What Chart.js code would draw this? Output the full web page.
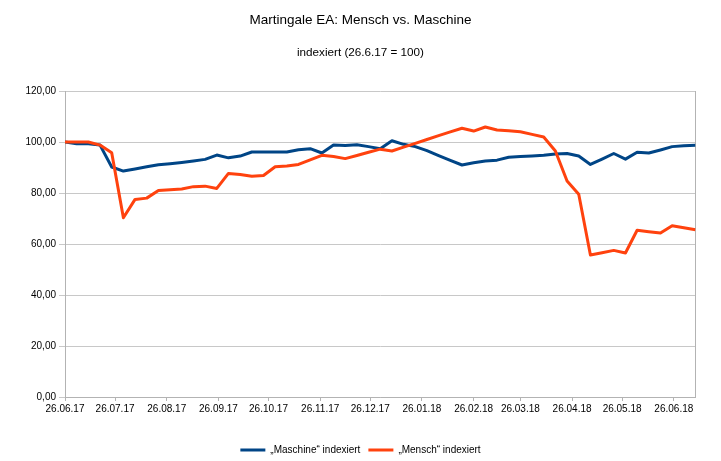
<!DOCTYPE html>
<html><head><meta charset="utf-8">
<script src="https://cdn.jsdelivr.net/npm/chart.js@4"></script>
<style>html,body{margin:0;padding:0;background:#fff}#wrap{width:721px;height:461px}</style>
</head><body><div id="wrap"><canvas id="c" width="721" height="461"></canvas></div>
<script>
const dates = ['26.06.17','03.07.17','10.07.17','17.07.17','24.07.17','31.07.17','07.08.17','14.08.17','21.08.17','28.08.17',
  '04.09.17','11.09.17','18.09.17','25.09.17','02.10.17','09.10.17','16.10.17','23.10.17','30.10.17','06.11.17',
  '13.11.17','20.11.17','27.11.17','04.12.17','11.12.17','18.12.17','25.12.17','01.01.18','08.01.18','15.01.18',
  '22.01.18','29.01.18','05.02.18','12.02.18','19.02.18','26.02.18','05.03.18','12.03.18','19.03.18','26.03.18',
  '02.04.18','09.04.18','16.04.18','23.04.18','30.04.18','07.05.18','14.05.18','21.05.18','28.05.18','04.06.18',
  '11.06.18','18.06.18','25.06.18','02.07.18','09.07.18'];
const maschine = [100, 99.3, 99.3, 98.8, 90.2, 88.6, 89.4, 90.3, 91.1, 91.5,
  92.0, 92.6, 93.2, 94.9, 93.8, 94.5, 96.1, 96.1, 96.1, 96.1,
  97.0, 97.4, 95.7, 98.8, 98.6, 98.9, 98.2, 97.4, 100.5, 99.1,
  98.2, 96.6, 94.7, 92.8, 91.0, 91.9, 92.6, 92.9, 94.0, 94.3,
  94.5, 94.8, 95.3, 95.5, 94.5, 91.2, 93.3, 95.5, 93.3, 96.0,
  95.7, 96.9, 98.2, 98.5, 98.7];
const mensch = [100, 100, 100, 98.8, 95.8, 70.3, 77.5, 78.0, 81.0, 81.3,
  81.6, 82.5, 82.7, 81.8, 87.7, 87.3, 86.6, 86.9, 90.3, 90.6,
  91.2, 93.0, 94.8, 94.3, 93.5, 94.7, 96.0, 97.2, 96.5, 98.0,
  99.5, 101.0, 102.5, 104.0, 105.4, 104.3, 105.9, 104.7, 104.4, 104.0,
  103.0, 102.0, 96.5, 84.7, 79.5, 55.7, 56.6, 57.5, 56.5, 65.4,
  64.8, 64.3, 67.2, 66.4, 65.6];
const tickDates = ['26.06.17','26.07.17','26.08.17','26.09.17','26.10.17','26.11.17','26.12.17',
  '26.01.18','26.02.18','26.03.18','26.04.18','26.05.18','26.06.18'];
const seriesNames = ['\u201EMaschine\u201C indexiert', '\u201EMensch\u201C indexiert'];
const titleText = 'Martingale EA: Mensch vs. Maschine';
const subtitleText = 'indexiert (26.6.17 = 100)';

const FONT = "'Liberation Sans', Arial, sans-serif";
function dayOf(s){const [d,m,y]=s.split('.').map(Number);return Math.round((Date.UTC(2000+y,m-1,d)-Date.UTC(2017,5,26))/86400000);}
const tickMap = {};
tickDates.forEach(s => tickMap[dayOf(s)] = s);
const pts = arr => dates.map((d,i)=>({x:dayOf(d), y:arr[i]}));

new Chart(document.getElementById('c'), {
  type: 'line',
  data: {
    datasets: [
      {label: seriesNames[0], data: pts(maschine), borderColor:'#004586', backgroundColor:'#004586',
       borderWidth:3, pointRadius:0, tension:0, borderJoinStyle:'round', order:1},
      {label: seriesNames[1], data: pts(mensch), borderColor:'#ff420e', backgroundColor:'#ff420e',
       borderWidth:3, pointRadius:0, tension:0, borderJoinStyle:'round', order:0}
    ]
  },
  options: {
    responsive:false, animation:false, devicePixelRatio:1,
    layout:{padding:{left:0,right:0,top:0,bottom:-4}},
    scales:{
      x:{type:'linear', min:0, max:dayOf(dates[dates.length-1]),
        afterBuildTicks: a => { a.ticks = tickDates.map(s=>({value:dayOf(s)})); },
        ticks:{autoSkip:false, maxRotation:0, padding:2, color:'#000', font:{family:FONT,size:10},
          callback: v => tickMap[v] || ''},
        grid:{drawOnChartArea:false, drawTicks:true, tickLength:4, color:'#b3b3b3'},
        border:{color:'#b3b3b3'},
        afterFit: s => { s.height = 40; }
      },
      y:{min:0, max:120,
        ticks:{stepSize:20, padding:3, color:'#000', font:{family:FONT,size:10},
          callback: v => v.toFixed(2).replace('.', ',')},
        grid:{color:'#c8c8c8', tickLength:6},
        border:{color:'#b3b3b3'},
        afterFit: s => { s.width = 65; }
      },
      y2:{position:'right', min:0, max:120, ticks:{display:false},
        grid:{drawOnChartArea:false, drawTicks:false},
        border:{color:'#b3b3b3'},
        afterFit: s => { s.width = 25.5; }
      }
    },
    plugins:{
      title:{display:true, text:titleText, color:'#000', font:{family:FONT,size:13.5,weight:'normal'},
        padding:{top:12,bottom:0}},
      subtitle:{display:true, text:subtitleText, color:'#000', font:{family:FONT,size:11.7,weight:'normal'},
        padding:{top:18,bottom:30.8}},
      legend:{position:'bottom', labels:{usePointStyle:true, pointStyle:'line', pointStyleWidth:25,
        padding:8, color:'#000', font:{family:FONT,size:10},
        sort:(a,b)=>a.datasetIndex-b.datasetIndex}},
      tooltip:{enabled:false}
    }
  }
});
</script></body></html>
